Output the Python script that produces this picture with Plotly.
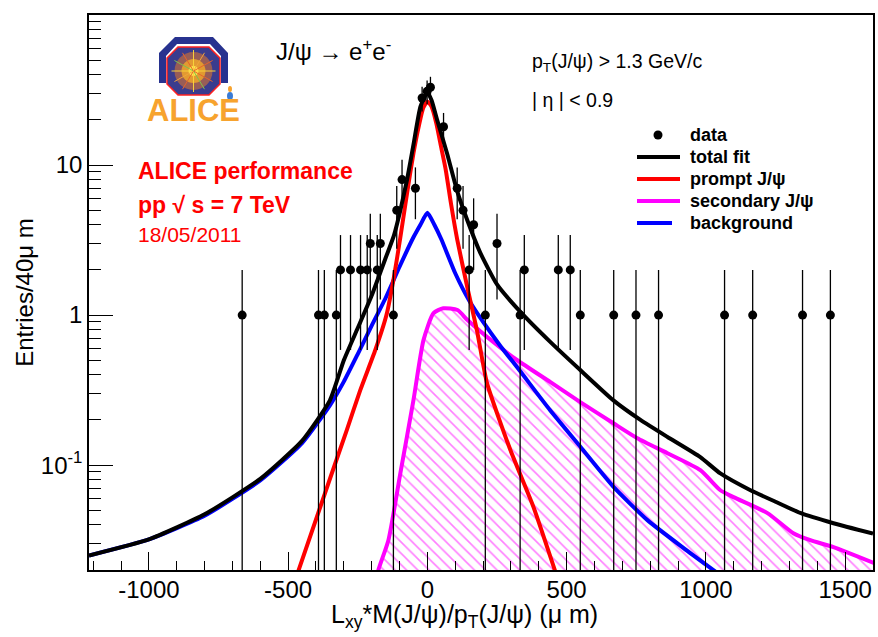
import numpy as np
import plotly.graph_objects as go

# ---------------- data ----------------
data_x = [-665, -391, -370, -327, -312, -276, -240, -216, -205, -180, -169, -122, -110, -91,
          -43, -19, -1, 11, 58, 107, 128, 150, 166, 208, 250, 333, 348, 470, 513, 549,
          669, 749, 830, 1067, 1168, 1347, 1447]
data_y = [1, 1, 1, 1, 2, 2, 2, 2, 3, 2, 3, 1, 5, 8,
          7, 28, 31, 33, 18, 7, 5, 2, 4, 1, 3, 1, 2, 2, 2, 1,
          1, 1, 1, 1, 1, 1, 1]

total_x = [-1215, -1000, -800, -600, -450, -350, -300, -250, -200, -150, -120, -97, -73, -49,
           -25, 0, 15, 35, 71, 107, 143, 190, 250, 334, 442, 549, 668, 765, 862, 980, 1052,
           1160, 1250, 1339, 1458, 1600]
total_y = [0.025, 0.032, 0.047, 0.081, 0.145, 0.27, 0.5, 0.82, 1.35, 2.4, 3.4, 5.0, 8.0, 14,
           24.5, 30.5, 27, 20, 11.9, 6.7, 4.3, 2.6, 1.6, 1.05, 0.66, 0.43, 0.27, 0.2, 0.154,
           0.113, 0.088, 0.068, 0.057, 0.048, 0.041, 0.035]

prompt_x = [-480, -384, -348, -290, -241, -187, -147, -120, -97, -73, -50, -30, -15, 0, 15,
            32, 50, 65, 85, 107, 143, 178, 214, 298, 381, 470]
prompt_y = [0.016, 0.053, 0.083, 0.17, 0.316, 0.585, 1.0, 1.8, 3.3, 6.5, 12, 18.5, 24, 26.5,
            24.5, 19, 13, 9.5, 5.5, 3.2, 1.54, 0.79, 0.352, 0.126, 0.0525, 0.017]

second_x = [-190, -176, -140, -97, -50, -14, 22, 57, 108, 144, 215, 323, 442, 549, 668, 754,
            862, 980, 1052, 1099, 1221, 1314, 1375, 1458, 1610]
second_y = [0.015, 0.02, 0.0316, 0.0885, 0.271, 0.681, 1.03, 1.11, 1.08, 0.926, 0.713, 0.50,
            0.357, 0.263, 0.19, 0.151, 0.12, 0.0926, 0.068, 0.0612, 0.0479, 0.0352, 0.0316,
            0.0284, 0.022]

bkg_x = [-1215, -1000, -800, -600, -450, -350, -300, -250, -200, -150, -100, -50, -25, 0,
         25, 50, 100, 150, 200, 260, 330, 440, 550, 670, 790, 920, 1060]
bkg_y = [0.025, 0.032, 0.046, 0.079, 0.14, 0.25, 0.36, 0.55, 0.85, 1.3, 2.1, 3.3, 4.0, 4.8,
         4.0, 3.2, 1.9, 1.25, 0.9, 0.63, 0.43, 0.233, 0.132, 0.071, 0.043, 0.028, 0.018]

x_tickvals = [-1000, -500, 0, 500, 1000, 1500]
x_ticktext = ["-1000", "-500", "0", "500", "1000", "1500"]
y_tickvals = [0.1, 1, 10, 100]
y_ticktext = ["10<sup>-1</sup>", "1", "10", "10<sup>2</sup>"]

legend_names = ["data", "total fit", "prompt J/ψ", "secondary J/ψ", "background"]
legend_colors = ["black", "black", "#ff0000", "#ff00ff", "#0000ff"]

# ---------------- figure ----------------
W, H = 878, 637
L, R, T, B = 89, 5, 15, 67
pw, ph = W - L - R, H - T - B


def px(x):
    return (x - L) / pw


def py(y):
    return (H - B - y) / ph


FONT = "Liberation Sans, Arial, Helvetica, sans-serif"
fig = go.Figure()

# hatched secondary area (baseline below the axis range)
fig.add_trace(go.Scatter(x=second_x, y=[1e-3] * len(second_x), mode="lines",
                         line=dict(width=0, color="rgba(0,0,0,0)"), showlegend=False,
                         hoverinfo="skip"))
fig.add_trace(go.Scatter(x=second_x, y=second_y, mode="lines", fill="tonexty",
                         fillcolor="rgba(0,0,0,0)",
                         fillpattern=dict(shape="\\", fgcolor="#ff00ff", bgcolor="rgba(0,0,0,0)",
                                          size=8, solidity=0.2, fillmode="overlay"),
                         line=dict(width=0, color="#ff00ff", shape="spline", smoothing=0.6),
                         showlegend=False, hoverinfo="skip"))

fig.add_trace(go.Scatter(x=second_x, y=second_y, mode="lines", name=legend_names[3],
                         line=dict(color="#ff00ff", width=4, shape="spline", smoothing=0.6)))
fig.add_trace(go.Scatter(x=bkg_x, y=bkg_y, mode="lines", name=legend_names[4],
                         line=dict(color="#0000ff", width=4, shape="spline", smoothing=0.5)))
fig.add_trace(go.Scatter(x=prompt_x, y=prompt_y, mode="lines", name=legend_names[2],
                         line=dict(color="#ff0000", width=4, shape="spline", smoothing=0.5)))
fig.add_trace(go.Scatter(x=total_x, y=total_y, mode="lines", name=legend_names[1],
                         line=dict(color="black", width=4, shape="spline", smoothing=0.5)))

err = np.sqrt(np.array(data_y, dtype=float))
err_minus = np.minimum(err, np.array(data_y, dtype=float) * 0.999)
fig.add_trace(go.Scatter(x=data_x, y=data_y, mode="markers", name=legend_names[0],
                         marker=dict(color="black", size=9, symbol="circle"),
                         error_y=dict(type="data", symmetric=False, array=err,
                                      arrayminus=err_minus, color="black", thickness=1.3,
                                      width=0)))

minor_y = [m * 10.0 ** e for e in range(-2, 2) for m in range(2, 10)]

fig.update_layout(
    width=W, height=H,
    margin=dict(l=L, r=R, t=T, b=B, autoexpand=False),
    paper_bgcolor="white", plot_bgcolor="white",
    font=dict(family=FONT, color="black"),
    showlegend=False,
    xaxis=dict(range=[-1215, 1600], showgrid=False, zeroline=False,
               tickmode="array", tickvals=x_tickvals, ticktext=x_ticktext,
               ticks="inside", ticklen=18,
               tickwidth=1, tickcolor="black", showline=True, linecolor="black",
               linewidth=1.5, mirror=True, tickfont=dict(size=24), ticklabelstandoff=-3,
               minor=dict(dtick=100, tick0=0, ticks="inside", ticklen=9,
                          tickcolor="black", tickwidth=1)),
    yaxis=dict(type="log", range=[np.log10(0.02), 2], showgrid=False, zeroline=False,
               tickmode="array", tickvals=y_tickvals, ticktext=y_ticktext,
               ticks="inside", ticklen=24, tickwidth=1, tickcolor="black",
               showline=True, linecolor="black", linewidth=1.5, mirror=True,
               tickfont=dict(size=24),
               minor=dict(tickmode="array", tickvals=minor_y, ticks="inside",
                          ticklen=12, tickcolor="black", tickwidth=1),
               title=dict(text="Entries/40μ m", font=dict(size=24), standoff=0)),
)

# ---------------- annotations ----------------
def ann(text, x, y, size, color="black", xanchor="left", bold=False):
    if bold:
        text = "<b>" + text + "</b>"
    fig.add_annotation(text=text, x=px(x), y=py(y), xref="paper", yref="paper",
                       xanchor=xanchor, yanchor="middle", showarrow=False,
                       font=dict(size=size, color=color, family=FONT))


# x-axis title (placed like the ROOT title, right under the tick labels)
ann("L<sub>xy</sub>*M(J/ψ)/p<sub>T</sub>(J/ψ) (μ m)", 464, 616, 25, xanchor="center")

ann("J/ψ → e<sup>+</sup>e<sup>-</sup>", 333, 50, 24, xanchor="center")
ann("p<sub>T</sub>(J/ψ) > 1.3 GeV/c", 530, 62, 19.5)
ann("| η | < 0.9", 530, 100, 19.5)
ann("ALICE performance", 136, 171, 23, color="#ff0000", bold=True)
ann("pp √ s = 7 TeV", 136, 205, 23, color="#ff0000", bold=True)
ann("18/05/2011", 136, 235, 21, color="#ff0000")

# ---------------- legend (ROOT style, drawn in the corner) ----------------
leg_y = [135, 157, 179, 201, 223]
for i, (name, col) in enumerate(zip(legend_names, legend_colors)):
    yy = leg_y[i]
    if i == 0:
        fig.add_shape(type="circle", xref="paper", yref="paper",
                      x0=px(653.5), x1=px(662.5), y0=py(yy + 4.5), y1=py(yy - 4.5),
                      fillcolor="black", line=dict(width=0))
    else:
        x_end = 672 if i == 4 else 680
        fig.add_shape(type="line", xref="paper", yref="paper",
                      x0=px(637), x1=px(x_end), y0=py(yy), y1=py(yy),
                      line=dict(color=col, width=4))
    ann(name, 688, yy, 18, bold=True)

# ---------------- ALICE logo (drawn with shapes) ----------------
def path(points):
    return "M " + " L ".join(f"{px(a):.5f},{py(b):.5f}" for a, b in points) + " Z"


outer = [(159, 83), (159, 53), (175, 37), (213, 37), (228, 53), (228, 83), (221, 83),
         (221, 56), (210, 44), (177, 44), (166, 56), (166, 83)]
fig.add_shape(type="path", path=path(outer), xref="paper", yref="paper",
              fillcolor="#27328f", line=dict(width=0), layer="above")
inner = [(178, 47), (209, 47), (220, 58), (220, 84), (209, 95), (178, 95), (167, 84), (167, 58)]
fig.add_shape(type="path", path=path(inner), xref="paper", yref="paper",
              fillcolor="#3a3c8e", line=dict(width=1.5, color="#ff2020"), layer="above")
cx, cy = 193.5, 71
for r, col in [(19, "rgba(230,120,40,0.55)"), (12, "rgba(245,170,40,0.8)"),
               (5, "rgba(255,230,80,1)")]:
    fig.add_shape(type="circle", xref="paper", yref="paper",
                  x0=px(cx - r), x1=px(cx + r), y0=py(cy + r), y1=py(cy - r),
                  fillcolor=col, line=dict(width=0), layer="above")
for ang, col in zip(range(0, 360, 30),
                    ["#f7d23a", "#e8632a", "#7fc24a", "#f7d23a", "#e8632a", "#f2a33a",
                     "#f7d23a", "#7fc24a", "#e8632a", "#f7d23a", "#f2a33a", "#e8632a"]):
    a = np.radians(ang)
    fig.add_shape(type="line", xref="paper", yref="paper",
                  x0=px(cx), y0=py(cy), x1=px(cx + 22 * np.cos(a)), y1=py(cy + 21 * np.sin(a)),
                  line=dict(color=col, width=1), layer="above")
fig.add_shape(type="circle", xref="paper", yref="paper",
              x0=px(227), x1=px(233), y0=py(100), y1=py(92),
              fillcolor="#3a7bd5", line=dict(width=0), layer="above")
fig.add_shape(type="circle", xref="paper", yref="paper",
              x0=px(228), x1=px(232), y0=py(92), y1=py(86),
              fillcolor="#f7a32e", line=dict(width=0), layer="above")
fig.add_annotation(text="<b>ALICE</b>", x=px(193), y=py(110), xref="paper", yref="paper",
                   xanchor="center", yanchor="middle", showarrow=False,
                   font=dict(size=31, color="#f7a32e", family=FONT))

fig.write_html("out.html", config={"displayModeBar": False},
               post_script="document.body.style.margin='0px';")
